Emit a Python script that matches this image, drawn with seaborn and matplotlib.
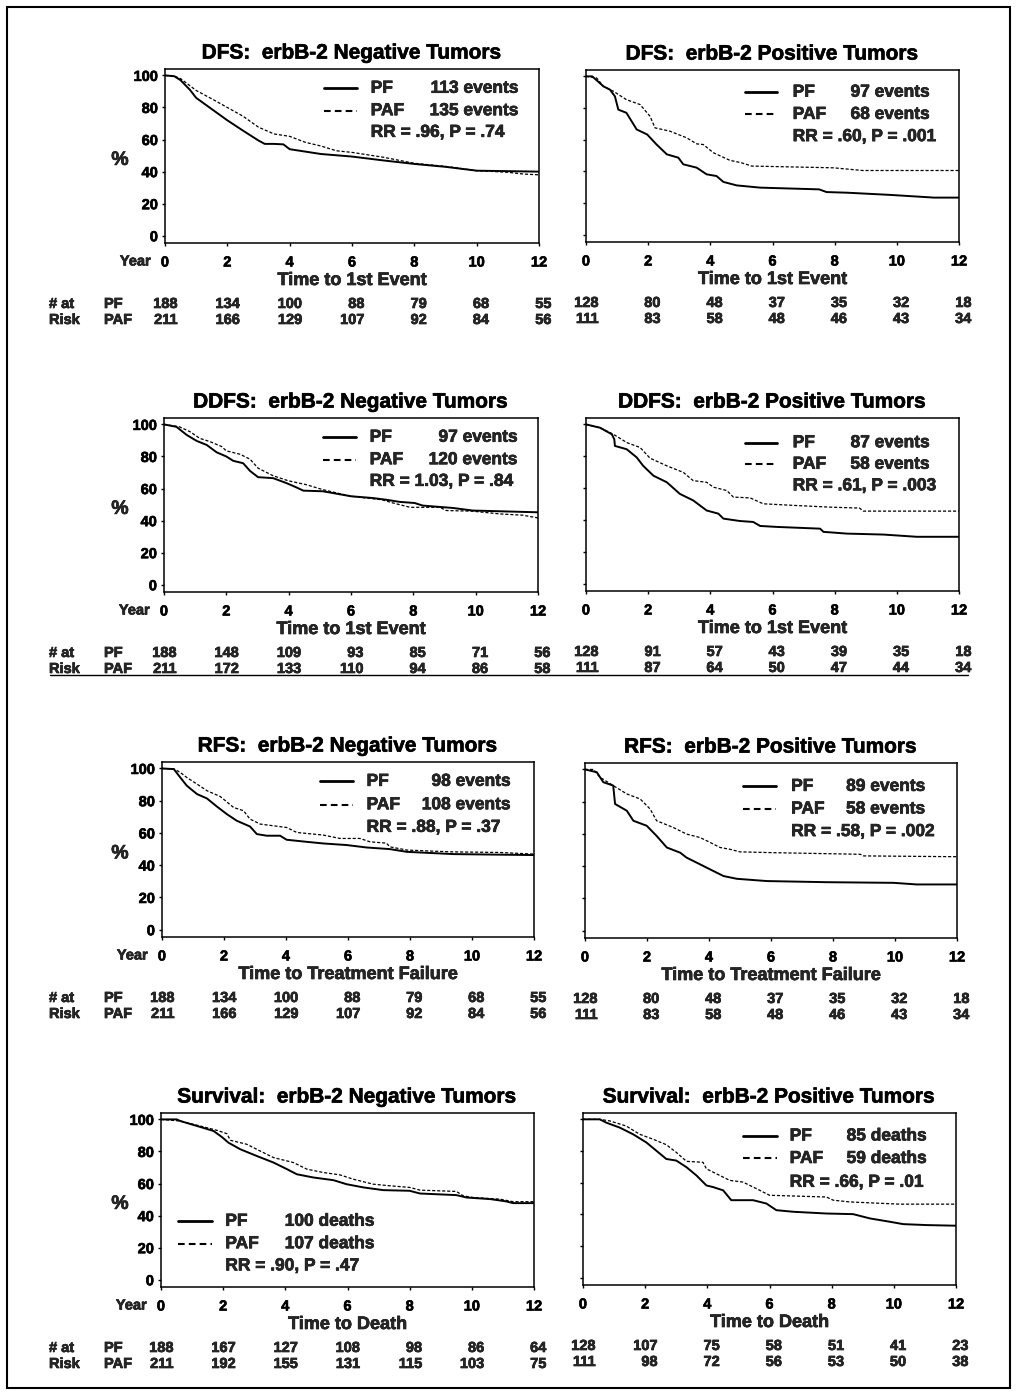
import numpy as np
import pandas as pd
import matplotlib
matplotlib.use("Agg")
import matplotlib.pyplot as plt
import matplotlib.patheffects as pe
import seaborn as sns
from matplotlib.lines import Line2D
from matplotlib.patches import Rectangle

sns.set_theme(style="white")
plt.rcParams['font.family'] = ['Liberation Sans', 'DejaVu Sans']
plt.rcParams['font.weight'] = 'bold'

# ---------------- data ----------------
years = [0, 2, 4, 6, 8, 10, 12]

# DFS negative
dfs_neg_pf_t = [0, 0.3, 0.5, 0.8, 1.0, 1.5, 2.0, 2.5, 3.0, 3.2, 3.5, 3.8, 4.0, 4.5, 5.0, 6.0, 7.0, 8.0, 9.0, 10.0, 12.0]
dfs_neg_pf_s = [100, 99.5, 97, 91, 86, 79, 72, 65.6, 59.4, 57.3, 57.3, 57.0, 54, 52.5, 51, 49.4, 47, 44.8, 43, 40.6, 40]
dfs_neg_paf_t = [0, 0.3, 0.5, 1.0, 1.5, 2.0, 2.5, 3.0, 3.5, 4.0, 4.5, 5.0, 5.5, 6.0, 7.0, 8.0, 9.0, 10.0, 11.0, 11.5, 12.0]
dfs_neg_paf_s = [100, 99.5, 98, 90.6, 85.4, 80, 74.6, 67.7, 63.5, 62, 58.3, 56, 53, 52, 49, 45.2, 43.3, 40.6, 39.6, 38.5, 38]

# DFS positive
dfs_pos_pf_t = [0, 0.2, 0.56, 0.77, 0.93, 1.04, 1.3, 1.63, 1.97, 2.27, 2.6, 2.97, 3.13, 3.56, 3.88, 4.2, 4.42, 4.85, 5.6, 7.5, 7.74, 8.4, 9.8, 11.2, 12.0]
dfs_pos_pf_s = [100, 100, 93.7, 91.6, 87.4, 79, 77, 66.5, 63.3, 57, 50.8, 48.7, 44.5, 42.4, 38.2, 37.1, 33.4, 31.2, 29.8, 28.7, 27, 26.6, 25.2, 23.5, 23.5]
dfs_pos_paf_t = [0, 0.34, 0.56, 0.88, 1.3, 1.74, 2.06, 2.22, 2.7, 3.24, 3.56, 3.77, 4.1, 4.63, 5.0, 5.33, 7.96, 8.9, 12.0]
dfs_pos_paf_s = [100, 99, 93.7, 90.6, 85.3, 82.2, 74.8, 67.5, 65.4, 61.2, 57.4, 57, 51.8, 47, 45.5, 43.4, 42.3, 40.6, 40.6]

# DDFS negative
ddfs_neg_pf_t = [0, 0.4, 0.73, 1.05, 1.37, 1.69, 2.0, 2.22, 2.54, 2.76, 3.02, 3.5, 3.93, 4.25, 4.47, 5.1, 6.0, 6.7, 7.14, 7.56, 8.04, 8.3, 9.27, 9.9, 12.0]
ddfs_neg_pf_s = [100, 98.5, 93.4, 89.7, 87.2, 82.6, 80, 77.3, 75.8, 71, 67.1, 66.5, 63.4, 60.7, 58.7, 58.3, 55.2, 54.1, 53, 51.7, 51, 49.4, 47.9, 46.3, 45.2]
ddfs_neg_paf_t = [0, 0.5, 0.83, 1.15, 1.47, 1.85, 2.0, 2.44, 2.76, 3.02, 3.5, 3.98, 4.57, 5.1, 6.0, 7.0, 7.35, 7.9, 8.85, 9.06, 9.9, 10.77, 11.5, 12.0]
ddfs_neg_paf_s = [100, 98.5, 95.5, 91.3, 89.3, 86.2, 83.5, 81.4, 78.3, 72.7, 68, 64.9, 62.4, 59.3, 55.2, 53, 51, 48.3, 48.3, 46.3, 45.9, 44.2, 43.4, 41.7]

# DDFS positive
ddfs_pos_pf_t = [0, 0.45, 0.83, 0.91, 0.93, 1.31, 1.63, 1.84, 2.17, 2.6, 3.02, 3.45, 3.88, 4.26, 4.42, 4.95, 5.38, 5.6, 6.13, 7.53, 7.64, 8.39, 9.57, 10.64, 12.0]
ddfs_pos_pf_s = [100, 97.9, 93.8, 90.7, 86.5, 84.4, 79.3, 74, 67.8, 63.7, 56.4, 52.3, 46, 44, 40.9, 39.4, 38.8, 36.3, 35.7, 34.6, 32.6, 31.5, 30.9, 29.5, 29.5]
ddfs_pos_paf_t = [0, 0.45, 0.88, 1.31, 1.74, 2.06, 2.6, 3.13, 3.45, 3.88, 4.1, 4.53, 4.74, 5.28, 5.7, 6.67, 7.85, 8.8, 8.92, 12.0]
ddfs_pos_paf_s = [100, 97.9, 93.8, 88.6, 85.5, 78.8, 74, 69.9, 64.7, 63.7, 60.6, 58.5, 54.4, 53.9, 50.2, 49.2, 48.1, 47.5, 45.6, 45.6]

# RFS negative
rfs_neg_pf_t = [0, 0.38, 0.59, 0.8, 1.13, 1.45, 1.77, 2.09, 2.41, 2.84, 3.06, 3.38, 3.81, 4.02, 4.67, 5.2, 5.96, 6.6, 7.35, 7.9, 9.4, 12.0]
rfs_neg_pf_s = [100, 99.6, 94.4, 89.3, 84.1, 81.4, 76.4, 71.7, 67.6, 64, 59.3, 58.3, 58.3, 55.8, 54.5, 53.5, 52.5, 51, 50, 48.3, 46.9, 46.3]
rfs_neg_paf_t = [0, 0.4, 0.59, 0.8, 1.13, 1.45, 1.88, 2.31, 2.63, 2.84, 3.17, 4.02, 4.35, 5.2, 5.74, 6.39, 6.71, 7.24, 7.35, 7.9, 9.3, 10.9, 12.0]
rfs_neg_paf_s = [100, 99.6, 97.5, 94.4, 90.3, 86.2, 82.6, 75.8, 73.8, 68.6, 65.5, 63.4, 60.3, 58.7, 56.6, 56.6, 54.5, 53.7, 51.4, 49.4, 48.3, 47.9, 46.9]

# RFS positive
rfs_pos_pf_t = [0, 0.38, 0.59, 0.91, 0.97, 1.35, 1.56, 1.99, 2.31, 2.64, 3.07, 3.28, 3.71, 4.04, 4.47, 4.9, 5.87, 7.8, 9.96, 10.7, 12.0]
rfs_pos_pf_s = [100, 98.3, 92.1, 90, 78.6, 74.4, 68.2, 65.1, 58.8, 51.6, 48.4, 45.3, 41.2, 38, 33.9, 32.2, 30.8, 30.1, 29.7, 28.7, 28.7]
rfs_pos_paf_t = [0, 0.27, 0.48, 0.91, 1.35, 1.78, 2.1, 2.31, 2.85, 3.28, 3.71, 4.04, 4.36, 4.68, 5.0, 6.08, 8.88, 8.99, 12.0]
rfs_pos_paf_s = [100, 100, 95.2, 90, 84.8, 81.7, 75.5, 68.2, 64.0, 59.9, 57.8, 54.7, 51.6, 50.5, 48.9, 48.4, 47.4, 46.4, 45.9]

# Survival negative
os_neg_pf_t = [0, 0.51, 0.62, 1.16, 1.69, 1.96, 2.17, 2.55, 3.08, 3.62, 4.05, 4.37, 4.9, 5.55, 5.97, 6.51, 7.15, 8.0, 8.33, 9.5, 9.83, 10.6, 11.1, 11.33, 12.0]
os_neg_pf_s = [100, 100, 99, 95.9, 92.8, 89, 85.5, 81.4, 77.2, 73.1, 69, 65.8, 63.8, 62.1, 59.6, 57.6, 55.9, 55.5, 53.8, 52.8, 51.3, 50.3, 48.9, 47.8, 47.8]
os_neg_paf_t = [0, 0.62, 1.26, 1.8, 2.12, 2.23, 2.76, 3.19, 3.62, 4.26, 4.69, 5.22, 5.76, 6.19, 6.83, 7.37, 8.0, 8.33, 9.5, 9.72, 10.04, 10.9, 11.33, 12.0]
os_neg_paf_s = [100, 99, 95.9, 93.2, 91.1, 87, 84.5, 80.3, 76.2, 73.1, 69, 66.9, 65.4, 62.7, 59.6, 58.6, 57.6, 55.9, 55.1, 52.4, 51.3, 50.3, 48.7, 48.7]

# Survival positive
os_pos_pf_t = [0, 0.54, 0.75, 1.18, 1.61, 2.04, 2.36, 2.68, 3.0, 3.33, 3.65, 3.97, 4.18, 4.51, 4.77, 5.47, 5.9, 6.22, 6.76, 7.83, 8.69, 9.23, 9.87, 10.3, 11.05, 12.0]
os_pos_pf_s = [100, 100, 97.9, 94.8, 90.6, 85.4, 80.2, 75, 74, 69.8, 64.6, 58.3, 57.3, 55.2, 49, 49, 46.9, 42.7, 41.7, 40.6, 40.2, 37.5, 35.4, 33.9, 33.3, 32.9]
os_pos_paf_t = [0, 0.54, 0.86, 1.39, 1.82, 2.25, 2.68, 3.0, 3.33, 3.86, 3.97, 4.4, 4.72, 5.15, 5.69, 6.0, 7.83, 8.05, 8.58, 10.19, 12.0]
os_pos_paf_s = [100, 100, 99, 95.8, 90.6, 87.5, 84, 79.2, 73.5, 72.9, 68.8, 64.6, 61.5, 60.4, 55.2, 52.1, 51, 49, 47.9, 46.5, 46.5]

titles = ["DFS:  erbB-2 Negative Tumors", "DFS:  erbB-2 Positive Tumors",
          "DDFS:  erbB-2 Negative Tumors", "DDFS:  erbB-2 Positive Tumors",
          "RFS:  erbB-2 Negative Tumors", "RFS:  erbB-2 Positive Tumors",
          "Survival:  erbB-2 Negative Tumors", "Survival:  erbB-2 Positive Tumors"]
xlabels = ["Time to 1st Event", "Time to 1st Event", "Time to 1st Event", "Time to 1st Event",
           "Time to Treatment Failure", "Time to Treatment Failure", "Time to Death", "Time to Death"]
pf_counts = ["113 events", "97 events", "97 events", "87 events", "98 events", "89 events", "100 deaths", "85 deaths"]
paf_counts = ["135 events", "68 events", "120 events", "58 events", "108 events", "58 events", "107 deaths", "59 deaths"]
rr_texts = ["RR = .96, P = .74", "RR = .60, P = .001", "RR = 1.03, P = .84", "RR = .61, P = .003",
            "RR = .88, P = .37", "RR = .58, P = .002", "RR = .90, P = .47", "RR = .66, P = .01"]

risk_pf = [[188, 134, 100, 88, 79, 68, 55], [128, 80, 48, 37, 35, 32, 18],
           [188, 148, 109, 93, 85, 71, 56], [128, 91, 57, 43, 39, 35, 18],
           [188, 134, 100, 88, 79, 68, 55], [128, 80, 48, 37, 35, 32, 18],
           [188, 167, 127, 108, 98, 86, 64], [128, 107, 75, 58, 51, 41, 23]]
risk_paf = [[211, 166, 129, 107, 92, 84, 56], [111, 83, 58, 48, 46, 43, 34],
            [211, 172, 133, 110, 94, 86, 58], [111, 87, 64, 50, 47, 44, 34],
            [211, 166, 129, 107, 92, 84, 56], [111, 83, 58, 48, 46, 43, 34],
            [211, 192, 155, 131, 115, 103, 75], [111, 98, 72, 56, 53, 50, 38]]

curves = [(dfs_neg_pf_t, dfs_neg_pf_s, dfs_neg_paf_t, dfs_neg_paf_s),
          (dfs_pos_pf_t, dfs_pos_pf_s, dfs_pos_paf_t, dfs_pos_paf_s),
          (ddfs_neg_pf_t, ddfs_neg_pf_s, ddfs_neg_paf_t, ddfs_neg_paf_s),
          (ddfs_pos_pf_t, ddfs_pos_pf_s, ddfs_pos_paf_t, ddfs_pos_paf_s),
          (rfs_neg_pf_t, rfs_neg_pf_s, rfs_neg_paf_t, rfs_neg_paf_s),
          (rfs_pos_pf_t, rfs_pos_pf_s, rfs_pos_paf_t, rfs_pos_paf_s),
          (os_neg_pf_t, os_neg_pf_s, os_neg_paf_t, os_neg_paf_s),
          (os_pos_pf_t, os_pos_pf_s, os_pos_paf_t, os_pos_paf_s)]

# ---------------- layout ----------------
W, H = 1017, 1395
fig = plt.figure(figsize=(W / 100, H / 100), dpi=100)
fig.patch.set_facecolor("white")

# axes boxes in pixels: (left, top, right, bottom)
boxes = [(165, 69, 539, 243), (586, 70, 959, 242),
         (164, 418, 538, 592), (586, 418, 959, 591),
         (162, 762, 534, 937), (585, 763, 957, 938),
         (161, 1113, 534, 1287), (583, 1113, 956, 1285)]

# legend placement (data coords): line x0, x1, label x, count right x, y rows
leg_pos = [(5.1, 6.15, 6.6, 11.35, [92, 78, 64.5]),
           (5.1, 6.15, 6.65, 11.06, [90, 76, 62]),
           (5.1, 6.15, 6.6, 11.35, [92, 78, 64.5]),
           (5.1, 6.15, 6.65, 11.06, [88.5, 75, 61.5]),
           (5.1, 6.15, 6.6, 11.25, [92, 77.5, 63.5]),
           (5.1, 6.15, 6.65, 10.98, [89.5, 75.5, 61.5]),
           (0.55, 1.65, 2.07, 6.88, [36.5, 22.5, 8.7]),
           (5.15, 6.25, 6.65, 11.07, [89.5, 75.3, 60.3])]

PX = 0.72  # points per pixel at dpi 100
TICK_FS = 10.5
bold_fx = [pe.withStroke(linewidth=0.45, foreground="black")]

for i in range(8):
    l, t, r, b = boxes[i]
    ax = fig.add_axes([l / W, 1 - b / H, (r - l) / W, (b - t) / H])
    pf_t, pf_s, paf_t, paf_s = curves[i]
    sns.lineplot(x=pf_t, y=pf_s, ax=ax, color="black", linewidth=1.4,
                 estimator=None, sort=False)
    sns.lineplot(x=paf_t, y=paf_s, ax=ax, color="black", linewidth=0.9,
                 linestyle=(0, (2.5, 1.5)), estimator=None, sort=False)
    ax.set_xlim(0, 12)
    ax.set_ylim(-4.5, 104)
    ax.set_xticks(years)
    ax.set_yticks([0, 20, 40, 60, 80, 100])
    ax.set_xlabel("")
    ax.set_ylabel("")
    for sp in ax.spines.values():
        sp.set_visible(True)
        sp.set_color("black")
        sp.set_linewidth(1.1)
    left_col = (i % 2 == 0)
    ax.tick_params(axis="x", direction="out", length=2.5, width=1, pad=6.5,
                   labelsize=TICK_FS, colors="black", bottom=True)
    ax.tick_params(axis="y", direction="out", length=2.5, width=1, pad=2.5,
                   labelsize=TICK_FS, colors="black", left=True, labelleft=left_col)
    for lab in ax.get_xticklabels() + ax.get_yticklabels():
        lab.set_fontweight("bold")
        lab.set_path_effects(bold_fx)

    ax.set_title(titles[i], fontsize=15, fontweight="bold", pad=7.5, color="black",
                 path_effects=bold_fx)

    # x-axis label
    ax.annotate(xlabels[i], xy=(0.5, 0), xycoords="axes fraction",
                xytext=(0, -37.5 * PX), textcoords="offset points",
                ha="center", va="center", fontsize=13, fontweight="bold",
                path_effects=bold_fx)

    # at-risk numbers
    for k, yr in enumerate(years):
        ax.annotate(str(risk_pf[i][k]), xy=(yr + 0.4, 0), xycoords=("data", "axes fraction"),
                    xytext=(0, -61 * PX), textcoords="offset points",
                    ha="right", va="center", fontsize=TICK_FS, fontweight="bold",
                    annotation_clip=False, path_effects=bold_fx)
        ax.annotate(str(risk_paf[i][k]), xy=(yr + 0.4, 0), xycoords=("data", "axes fraction"),
                    xytext=(0, -77 * PX), textcoords="offset points",
                    ha="right", va="center", fontsize=TICK_FS, fontweight="bold",
                    annotation_clip=False, path_effects=bold_fx)

    if left_col:
        ax.annotate("Year", xy=(0, 0), xycoords="axes fraction",
                    xytext=(-14 * PX, -18.5 * PX), textcoords="offset points",
                    ha="right", va="center", fontsize=TICK_FS, fontweight="bold",
                    path_effects=bold_fx)
        ax.annotate("%", xy=(120 / W, 47), xycoords=("figure fraction", "data"),
                    ha="center", va="center", fontsize=14, fontweight="bold",
                    path_effects=bold_fx)
        for txt, yoff in (("PF", -61), ("PAF", -77)):
            ax.annotate(txt, xy=(104 / W, 0), xycoords=("figure fraction", "axes fraction"),
                        xytext=(0, yoff * PX), textcoords="offset points",
                        ha="left", va="center", fontsize=TICK_FS, fontweight="bold",
                        annotation_clip=False, path_effects=bold_fx)
        for txt, yoff in (("# at", -61), ("Risk", -77)):
            ax.annotate(txt, xy=(49 / W, 0), xycoords=("figure fraction", "axes fraction"),
                        xytext=(0, yoff * PX), textcoords="offset points",
                        ha="left", va="center", fontsize=TICK_FS, fontweight="bold",
                        annotation_clip=False, path_effects=bold_fx)

    # legend block
    x0, x1, xl, xr, ys = leg_pos[i]
    ax.add_line(Line2D([x0, x1], [ys[0], ys[0]], color="black", linewidth=2.0))
    ax.add_line(Line2D([x0, x1], [ys[1], ys[1]], color="black", linewidth=1.5,
                       linestyle=(0, (3.2, 2.0))))
    for (xx, yy, txt, ha) in ((xl, ys[0], "PF", "left"), (xl, ys[1], "PAF", "left"),
                              (xr, ys[0], pf_counts[i], "right"), (xr, ys[1], paf_counts[i], "right"),
                              (xl, ys[2], rr_texts[i], "left")):
        ax.text(xx, yy, txt, ha=ha, va="center", fontsize=12.5, fontweight="bold",
                path_effects=bold_fx)

# underline below the second at-risk table and outer frame
fig.add_artist(Line2D([50 / W, 968 / W], [1 - 675 / H, 1 - 675 / H],
                      transform=fig.transFigure, color="black", linewidth=1.0))
fig.add_artist(Rectangle((7 / W, 1 - 1388 / H), (1010 - 7) / W, (1388 - 7) / H,
                         transform=fig.transFigure, fill=False, edgecolor="black", linewidth=1.5))

fig.savefig("out.png", dpi=100, facecolor="white")
